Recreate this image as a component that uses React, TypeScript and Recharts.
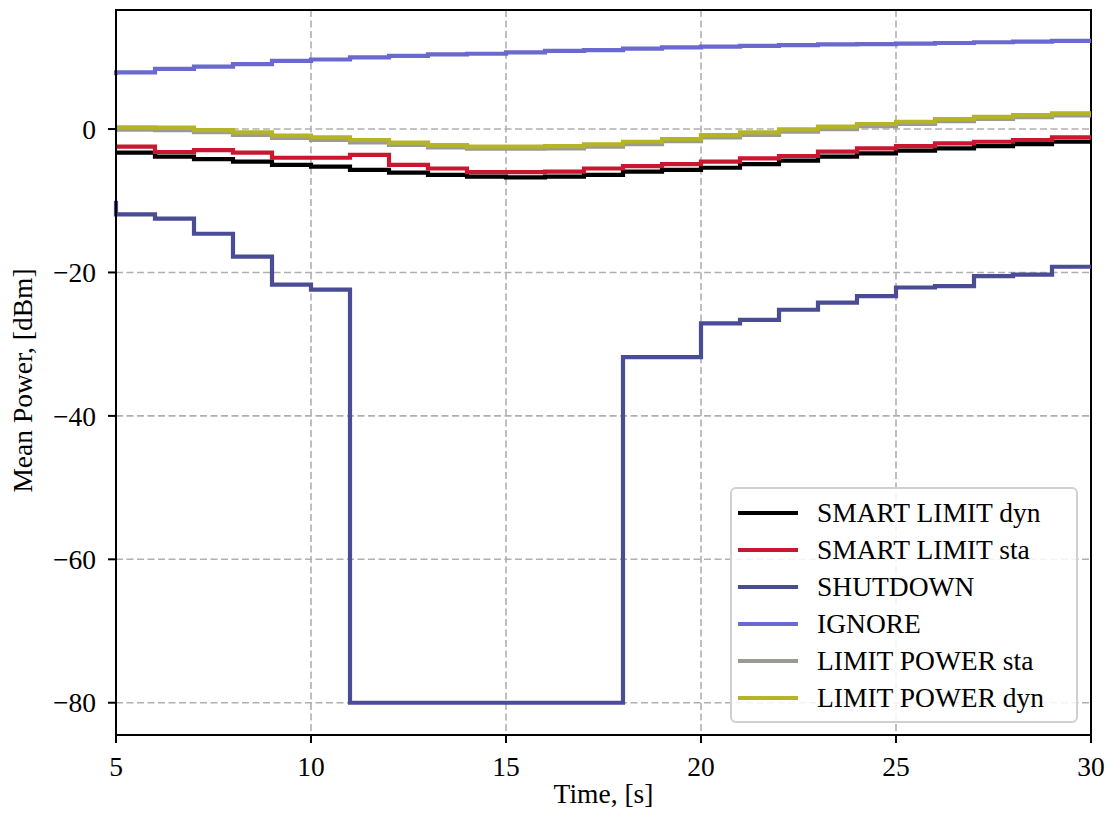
import React from "react";
import {
  LineChart,
  Line,
  XAxis,
  YAxis,
  CartesianGrid,
  Legend,
  ReferenceArea,
  Label,
} from "recharts";

const TIME = [5, 6, 7, 8, 9, 10, 11, 12, 13, 14, 15, 16, 17, 18, 19, 20, 21, 22, 23, 24, 25, 26, 27, 28, 29, 30];

const SMART_LIMIT_DYN = [-3.3, -3.3, -3.86, -4.2, -4.55, -5.0, -5.25, -5.7, -6.07, -6.4, -6.64, -6.74, -6.64, -6.4, -5.95, -5.7, -5.4, -4.88, -4.4, -3.86, -3.4, -3.0, -2.7, -2.37, -2.1, -1.77];
const SMART_LIMIT_STA = [-2.46, -2.46, -3.2, -2.93, -3.3, -4.0, -4.0, -3.6, -5.0, -5.5, -6.0, -6.0, -5.95, -5.5, -5.16, -4.9, -4.55, -4.1, -3.76, -3.16, -2.7, -2.37, -2.0, -1.77, -1.53, -1.16];
const SHUTDOWN = [-10, -11.9, -12.5, -14.6, -17.8, -21.7, -22.4, -80, -80, -80, -80, -80, -80, -80, -31.8, -31.8, -27.1, -26.6, -25.2, -24.2, -23.3, -22.1, -21.9, -20.5, -20.3, -19.2];
const IGNORE = [7.5, 7.9, 8.4, 8.7, 9.06, 9.5, 9.7, 10.0, 10.2, 10.4, 10.5, 10.7, 10.9, 11.0, 11.2, 11.4, 11.5, 11.6, 11.7, 11.8, 11.85, 11.9, 12.0, 12.1, 12.2, 12.3];
const LIMIT_POWER_STA = [-0.1, -0.1, -0.15, -0.45, -0.8, -1.25, -1.5, -1.85, -2.2, -2.55, -2.75, -2.75, -2.7, -2.45, -2.1, -1.7, -1.15, -0.8, -0.35, 0.0, 0.4, 0.7, 1.1, 1.4, 1.65, 1.9];
const LIMIT_POWER_DYN = [0.23, 0.23, 0.2, -0.14, -0.46, -0.93, -1.16, -1.53, -1.9, -2.23, -2.46, -2.46, -2.37, -2.14, -1.77, -1.39, -0.84, -0.46, -0.05, 0.33, 0.7, 1.02, 1.4, 1.7, 1.95, 2.2];

const X_TICKS = [5, 10, 15, 20, 25, 30];
const Y_TICKS = [-80, -60, -40, -20, 0];
const X_DOMAIN = [5, 30];
const Y_DOMAIN = [-84.5, 16.6];

const SERIES = [
  { key: "smartDyn", name: "SMART LIMIT dyn", values: SMART_LIMIT_DYN, color: "#000000" },
  { key: "smartSta", name: "SMART LIMIT sta", values: SMART_LIMIT_STA, color: "#c8172f" },
  { key: "shutdown", name: "SHUTDOWN", values: SHUTDOWN, color: "#4b4c96" },
  { key: "ignore", name: "IGNORE", values: IGNORE, color: "#6969cf" },
  { key: "lpSta", name: "LIMIT POWER sta", values: LIMIT_POWER_STA, color: "#9a9a90" },
  { key: "lpDyn", name: "LIMIT POWER dyn", values: LIMIT_POWER_DYN, color: "#b5b426" },
];

const data = TIME.map((t, i) => {
  const row: Record<string, number> = { t };
  SERIES.forEach((s) => {
    row[s.key] = s.values[i];
  });
  return row;
});

const FONT = "'Liberation Serif', 'DejaVu Serif', serif";
const FS = 27.5;
const fmt = (v: number) => (v < 0 ? `\u2212${Math.abs(v)}` : `${v}`);

// legend keeps the plotting order (recharts would sort it by name)
function LegendBox() {
  return (
    <div
      style={{
        border: "2px solid #d0d0d0",
        borderRadius: 6,
        background: "rgba(255,255,255,0.85)",
        padding: "5px 0",
        fontFamily: FONT,
        fontSize: FS,
        color: "#000",
        boxSizing: "border-box",
      }}
    >
      {SERIES.map((s) => (
        <div key={s.key} style={{ display: "flex", alignItems: "center", height: 37 }}>
          <span style={{ marginLeft: 6, width: 60, height: 4, background: s.color, display: "inline-block" }} />
          <span style={{ marginLeft: 19, whiteSpace: "nowrap" }}>{s.name}</span>
        </div>
      ))}
    </div>
  );
}

export default function App() {
  // full-viewport canvas so nothing gets clipped by the svg edge
  return (
    <div style={{ position: "absolute", left: 0, top: 0, width: 1110, height: 818 }}>
      <LineChart
        width={1110}
        height={818}
        data={data}
        margin={{ top: 10, right: 19, left: 0, bottom: 0 }}
      >
        <CartesianGrid stroke="#b0b0b0" strokeWidth={1.6} strokeDasharray="7 3.5" />
        <XAxis
          dataKey="t"
          type="number"
          domain={X_DOMAIN}
          ticks={X_TICKS}
          height={83}
          tickSize={8}
          tickMargin={13}
          tickFormatter={fmt}
          interval={0}
          axisLine={{ stroke: "#000", strokeWidth: 2 }}
          tickLine={{ stroke: "#000", strokeWidth: 2 }}
          tick={{ fill: "#000", fontSize: FS, fontFamily: FONT }}
        >
          <Label
            content={({ viewBox }: any) => (
              <text
                x={viewBox.x + viewBox.width / 2}
                y={viewBox.y + 68}
                textAnchor="middle"
                fontSize={FS}
                fontFamily={FONT}
                fill="#000"
              >
                Time, [s]
              </text>
            )}
          />
        </XAxis>
        <YAxis
          type="number"
          domain={Y_DOMAIN}
          ticks={Y_TICKS}
          width={116}
          allowDataOverflow
          tickSize={8}
          tickMargin={12}
          tickFormatter={fmt}
          axisLine={{ stroke: "#000", strokeWidth: 2 }}
          tickLine={{ stroke: "#000", strokeWidth: 2 }}
          tick={{ fill: "#000", fontSize: FS, fontFamily: FONT }}
        >
          <Label
            content={({ viewBox }: any) => {
              const cx = 22;
              const cy = viewBox.y + viewBox.height / 2 + 8;
              return (
                <text
                  x={cx}
                  y={cy}
                  transform={`rotate(-90, ${cx}, ${cy})`}
                  textAnchor="middle"
                  dominantBaseline="central"
                  fontSize={FS}
                  fontFamily={FONT}
                  fill="#000"
                >
                  Mean Power, [dBm]
                </text>
              );
            }}
          />
        </YAxis>
        {SERIES.map((s) => (
          <Line
            key={s.key}
            dataKey={s.key}
            name={s.name}
            type="stepBefore"
            stroke={s.color}
            strokeWidth={4.2}
            dot={false}
            activeDot={false}
            isAnimationActive={false}
          />
        ))}
        <ReferenceArea
          x1={X_DOMAIN[0]}
          x2={X_DOMAIN[1]}
          y1={Y_DOMAIN[0]}
          y2={Y_DOMAIN[1]}
          fill="none"
          fillOpacity={0}
          stroke="#000"
          strokeWidth={2}
          strokeOpacity={1}
        />
        <Legend
          layout="horizontal"
          align="center"
          verticalAlign="middle"
          width={348}
          content={<LegendBox />}
          wrapperStyle={{ left: 730, top: 487, width: 348 }}
        />
      </LineChart>
    </div>
  );
}
